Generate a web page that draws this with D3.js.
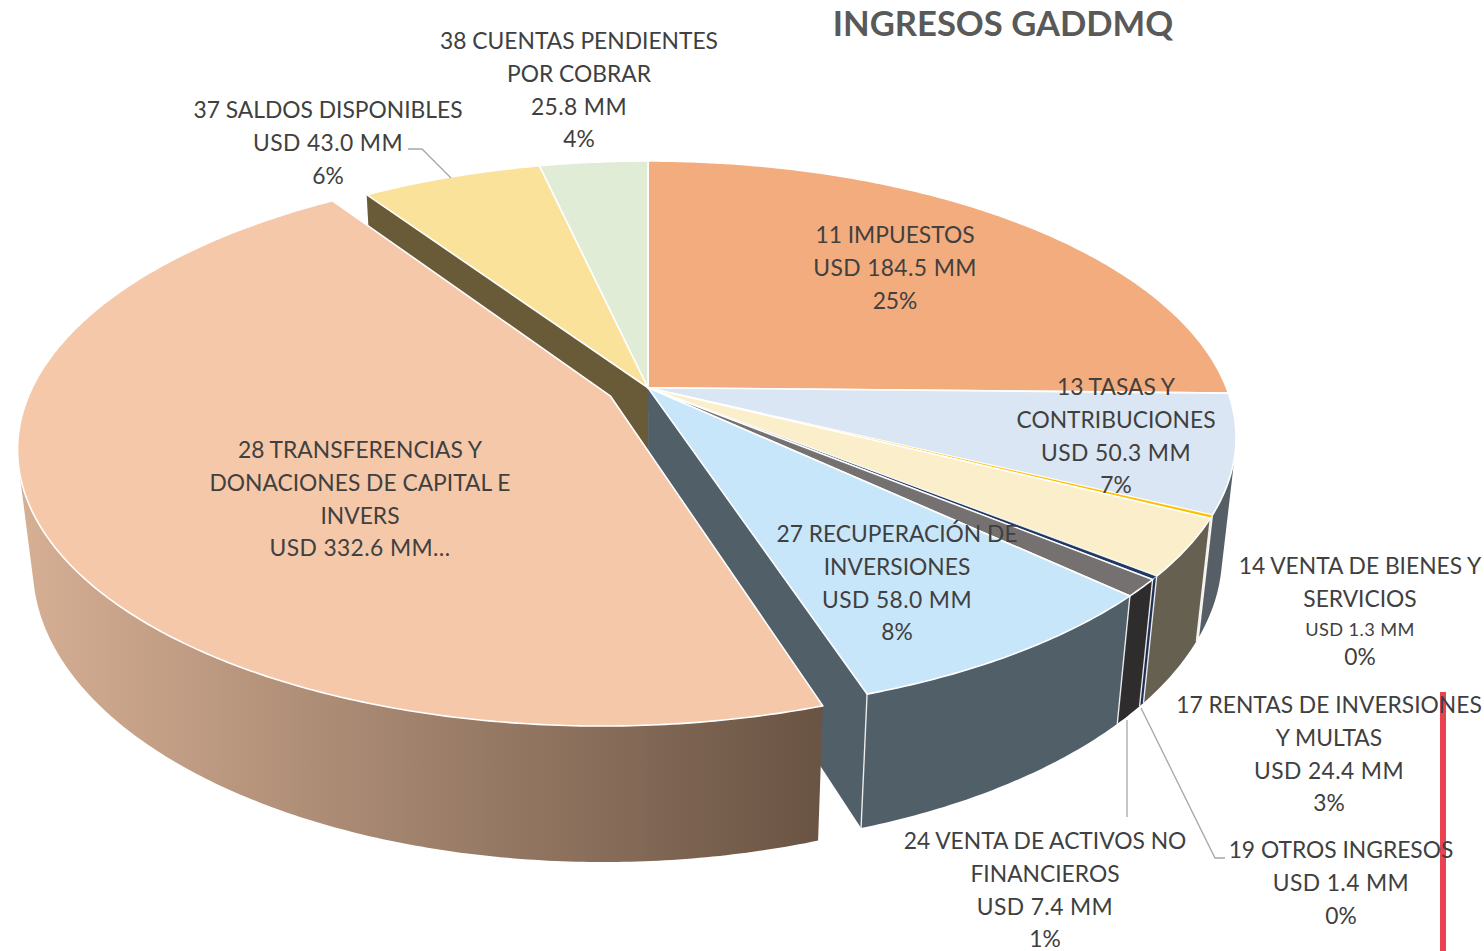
<!DOCTYPE html>
<html>
<head>
<meta charset="utf-8">
<style>
  html, body { margin: 0; padding: 0; background: #fff; }
  text { font-family: Lato, "Open Sans", sans-serif; fill: #404040; }
</style>
</head>
<body>
<div id="chart"></div>
<script src="https://d3js.org/d3.v7.min.js"></script>
<script>
// chart values
var categories = ["11 IMPUESTOS", "13 TASAS Y CONTRIBUCIONES", "14 VENTA DE BIENES Y SERVICIOS",
  "17 RENTAS DE INVERSIONES Y MULTAS", "19 OTROS INGRESOS", "24 VENTA DE ACTIVOS NO FINANCIEROS",
  "27 RECUPERACIÓN DE INVERSIONES", "28 TRANSFERENCIAS Y DONACIONES DE CAPITAL E INVERS",
  "37 SALDOS DISPONIBLES", "38 CUENTAS PENDIENTES POR COBRAR"];
var values = [184.5, 50.3, 1.3, 24.4, 1.4, 7.4, 58.0, 332.6, 43.0, 25.8];
var labelLines = [
  ["11 IMPUESTOS", "USD 184.5 MM", "25%"],
  ["13 TASAS Y", "CONTRIBUCIONES", "USD 50.3 MM", "7%"],
  ["14 VENTA DE BIENES Y", "SERVICIOS", "USD 1.3 MM", "0%"],
  ["17 RENTAS DE INVERSIONES", "Y MULTAS", "USD 24.4 MM", "3%"],
  ["19 OTROS INGRESOS", "USD 1.4 MM", "0%"],
  ["24 VENTA DE ACTIVOS NO", "FINANCIEROS", "USD 7.4 MM", "1%"],
  ["27 RECUPERACIÓN DE", "INVERSIONES", "USD 58.0 MM", "8%"],
  ["28 TRANSFERENCIAS Y", "DONACIONES DE CAPITAL E", "INVERS", "USD 332.6 MM…"],
  ["37 SALDOS DISPONIBLES", "USD 43.0 MM", "6%"],
  ["38 CUENTAS PENDIENTES", "POR COBRAR", "25.8 MM", "4%"]
];

// colours
var topColors = ["#f2ac7e", "#dae6f3", "#ffc000", "#fbeecb", "#1f3864", "#767171", "#c8e6fa", "#f5c8aa", "#fbe29a", "#e0ecd6"];
var wallColors = ["#8f6a4e", "#565f66", "#e5e0cf", "#666050", "#1f2f55", "#2e2c2d", "#505f68", "url(#bigWall)", "#695b38", "#7d8a72"];

// where each label sits (centre x, centre y of first line)
var labelX = [895, 1116, 1360, 1329, 1341, 1045, 897, 360, 328, 579];
var labelY = [235, 387, 566, 705, 850, 841, 534, 450, 110, 41];

var width = 1484, height = 951;

var svg = d3.select("#chart").append("svg")
    .attr("width", width)
    .attr("height", height)
    .style("display", "block");

var defs = svg.append("defs");
var grad = defs.append("linearGradient")
    .attr("id", "bigWall")
    .attr("gradientUnits", "userSpaceOnUse")
    .attr("x1", 20).attr("x2", 825).attr("y1", 0).attr("y2", 0);
grad.append("stop").attr("offset", "0%").attr("stop-color", "#d6af94");
grad.append("stop").attr("offset", "100%").attr("stop-color", "#695343");

// ellipse the tilted pie lands on
var xs = d3.scaleLinear().domain([-1, 1]).range([60, 1236]);
var ys = d3.scaleLinear().domain([-1, 1]).range([161, 714]);

// perspective: centre of the disc sits above centre of the ellipse
var tilt = -0.18;
var squeeze = Math.sqrt(1 - tilt * tilt);
var bigShift = [-0.065, 0.03];
var BIG = 7;

// pie thickness, goes to a far vanishing point
var depth = d3.scaleLinear().domain([388, 694]).range([115, 134]);
var vanish = [655, 5400];

function project(angle, r, shift) {
  var u = r * Math.sin(angle) + shift[0];
  var v = -r * Math.cos(angle) + shift[1];
  var w = 1 + tilt * v;
  return [xs(u * squeeze / w), ys((v + tilt) / w)];
}

function below(p) {
  var d = depth(p[1]);
  return [p[0] + (vanish[0] - p[0]) * d / (vanish[1] - p[1]), p[1] + d];
}

var arcs = d3.pie().sort(null).startAngle(0).endAngle(2 * Math.PI)(values);
var line = d3.line();
var noShift = [0, 0];

function arcPoints(a, shift) {
  var n = Math.max(2, Math.ceil((a.endAngle - a.startAngle) / 0.01));
  return d3.range(n + 1).map(function(i) {
    return project(a.startAngle + (a.endAngle - a.startAngle) * i / n, 1, shift);
  });
}

function topPath(a, shift) {
  return line([project(0, 0, shift)].concat(arcPoints(a, shift))) + "Z";
}

// outer wall as one path of thin quads, all wound the same way so they fill with no seams
function drawWall(a, i, shift) {
  var quads = d3.pairs(arcPoints(a, shift)).map(function(d) {
    var q = [d[0], d[1], below(d[1]), below(d[0])];
    if (d3.polygonArea(q) < 0) q.reverse();
    return line(q) + "Z";
  });
  svg.append("path")
      .attr("d", quads.join(""))
      .attr("fill", wallColors[i]);
}

function drawRadialWall(angle, color) {
  var c = project(0, 0, noShift), p = project(angle, 1, noShift);
  svg.append("path")
      .attr("d", line([c, p, below(p), below(c)]) + "Z")
      .attr("fill", color);
}

// inner walls showing in the gap left by the pulled out slice
drawRadialWall(arcs[BIG].startAngle, wallColors[6]);
drawRadialWall(arcs[BIG].endAngle, wallColors[8]);

// front walls of the slices on the right
[1, 2, 3, 4, 5, 6].forEach(function(i) { drawWall(arcs[i], i, noShift); });

// white seams between the walls
[1, 2, 3, 4, 5, 6].forEach(function(i) {
  var p = project(arcs[i].endAngle, 1, noShift);
  svg.append("path")
      .attr("d", line([p, below(p)]))
      .attr("stroke", "#fff")
      .attr("stroke-opacity", 0.85)
      .attr("stroke-width", 1.4);
});

// top faces
arcs.forEach(function(a, i) {
  if (i == BIG) return;
  svg.append("path")
      .attr("d", topPath(a, noShift))
      .attr("fill", topColors[i])
      .attr("stroke", "#fff")
      .attr("stroke-width", i == 2 || i == 4 ? 0.8 : 1.6)
      .attr("stroke-linejoin", "round");
});

// big slice goes last, it sits in front
drawWall(arcs[BIG], BIG, bigShift);
svg.append("path")
    .attr("d", topPath(arcs[BIG], bigShift))
    .attr("fill", topColors[BIG])
    .attr("stroke", "#fff")
    .attr("stroke-width", 1.6)
    .attr("stroke-linejoin", "round");

// leader lines
var leaders = [
  [[408, 149], [422, 149], [451, 178]],
  [[1127, 720], [1127, 817]],
  [[1141, 708], [1215, 858], [1225, 858]]
];
svg.selectAll(".leader")
  .data(leaders)
  .enter().append("path")
    .attr("class", "leader")
    .attr("d", function(d) { return line(d); })
    .attr("fill", "none")
    .attr("stroke", "#a6a6a6")
    .attr("stroke-width", 1.3);

// red stripe on the right
svg.append("rect")
    .attr("x", 1440).attr("y", 692)
    .attr("width", 6).attr("height", 259)
    .attr("fill", "#ea4350");

// labels
var lineStep = 32.7;
labelLines.forEach(function(lines, i) {
  var t = svg.append("text")
      .attr("text-anchor", "middle")
      .style("font-size", "22.8px");
  var y = labelY[i] + 8.3;
  lines.forEach(function(s, j) {
    // the 14 label has a smaller amount line and tighter rows after it
    var small = s == "USD 1.3 MM";
    if (small || lines[j - 1] == "USD 1.3 MM") y -= 3.7;
    t.append("tspan")
        .attr("x", labelX[i])
        .attr("y", y)
        .style("font-size", small ? "18.2px" : null)
        .style("letter-spacing", s.indexOf(" MM") > 0 ? "0.4px" : null)
        .text(s);
    y += lineStep;
  });
});

svg.append("text")
    .attr("x", 1003)
    .attr("y", 36)
    .attr("text-anchor", "middle")
    .style("font-size", "34.6px")
    .style("font-weight", "bold")
    .style("fill", "#595959")
    .text("INGRESOS GADDMQ");
</script>
</body>
</html>
